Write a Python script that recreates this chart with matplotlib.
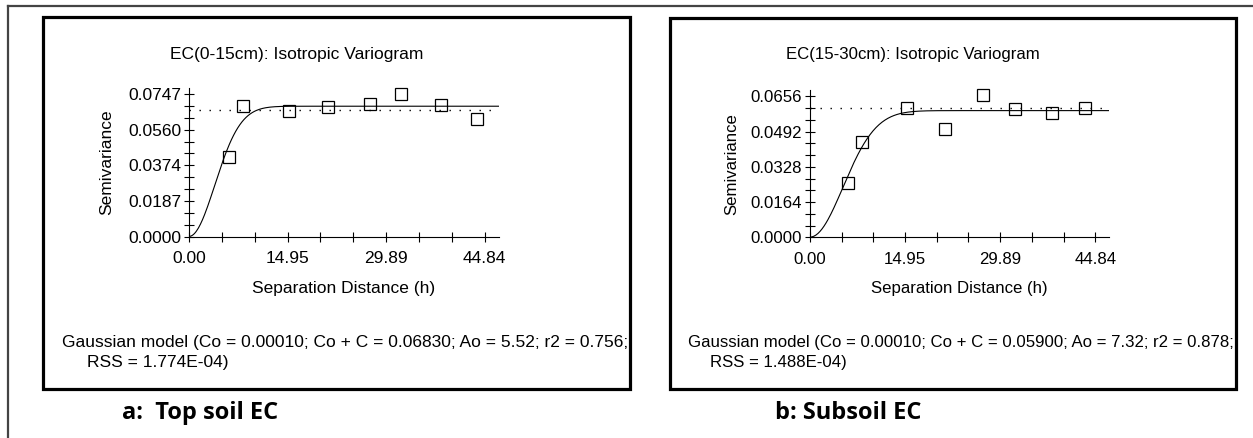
import numpy as np
import matplotlib
matplotlib.use("Agg")
import matplotlib.pyplot as plt
from matplotlib.patches import Rectangle
from matplotlib.lines import Line2D

plt.rcParams['font.family'] = ['Liberation Sans', 'DejaVu Sans']

# data
lag_top = [6.1, 8.25, 15.15, 21.1, 27.4, 32.1, 38.25, 43.6]
semi_top = [0.0419, 0.0686, 0.0658, 0.0681, 0.0695, 0.0745, 0.0690, 0.0615]
lag_sub = [5.9, 8.2, 15.2, 21.2, 27.2, 32.2, 38.1, 43.3]
semi_sub = [0.0252, 0.0444, 0.0602, 0.0506, 0.0662, 0.0596, 0.0578, 0.0602]

# Gaussian model parameters (Co, Co + C, Ao) and the sample variance line
model_top = (0.00010, 0.06830, 5.52)
model_sub = (0.00010, 0.05900, 7.32)
var_top = 0.0664
var_sub = 0.0600

x_ticks = [0.00, 14.95, 29.89, 44.84]
y_ticks_top = [0.0000, 0.0187, 0.0374, 0.0560, 0.0747]
y_ticks_sub = [0.0000, 0.0164, 0.0328, 0.0492, 0.0656]

titles = ["EC(0-15cm): Isotropic Variogram", "EC(15-30cm): Isotropic Variogram"]
model_txt = [
    "Gaussian model (Co = 0.00010; Co + C = 0.06830; Ao = 5.52; r2 = 0.756;",
    "Gaussian model (Co = 0.00010; Co + C = 0.05900; Ao = 7.32; r2 = 0.878;",
]
rss_txt = ["RSS = 1.774E-04)", "RSS = 1.488E-04)"]
captions = ["a:  Top soil EC", "b: Subsoil EC"]

W, H = 1253, 438
fig = plt.figure(figsize=(W / 100, H / 100), dpi=100)


def rect(x0, y0, x1, y1):
    # pixel box (y from top) -> figure fraction rect
    return [x0 / W, 1 - y1 / H, (x1 - x0) / W, (y1 - y0) / H]


def ftext(x, y, s, **kw):
    fig.text(x / W, 1 - y / H, s, **kw)


# outer frame (only top and left edge are inside the picture)
fig.add_artist(Line2D([8 / W, 1], [1 - 6 / H, 1 - 6 / H], color='#444444', lw=1.6))
fig.add_artist(Line2D([8 / W, 8 / W], [0, 1 - 6 / H], color='#444444', lw=1.6))

# the right panel is a slightly narrower copy, so its text is a bit smaller
panels = [
    dict(box=(43, 17, 630, 389), ax=(189, 87.7, 499, 236.6), ymax=0.0780, fs=12.5,
         lags=lag_top, semi=semi_top, model=model_top, var=var_top, yt=y_ticks_top,
         title_x=297, ylab_x=107, txt_x=62, rss_x=87, cap_x=122),
    dict(box=(670, 18, 1236, 389), ax=(810, 90, 1109, 237.3), ymax=0.0686, fs=12.05,
         lags=lag_sub, semi=semi_sub, model=model_sub, var=var_sub, yt=y_ticks_sub,
         title_x=913, ylab_x=732, txt_x=688, rss_x=710, cap_x=775),
]

xmax = 47.0
for i, p in enumerate(panels):
    fs = p['fs']
    bx = fig.add_axes(rect(*p['box']))
    bx.set_xlim(0, 1)
    bx.set_ylim(0, 1)
    bx.axis('off')
    bx.add_patch(Rectangle((0, 0), 1, 1, transform=bx.transAxes, fill=False,
                           ec='black', lw=2.3, clip_on=False))
    # model text, clipped by the box like in the original
    bw = p['box'][2] - p['box'][0]
    bh = p['box'][3] - p['box'][1]
    bx.text((p['txt_x'] - p['box'][0]) / bw, 1 - (343 - p['box'][1]) / bh,
            model_txt[i], fontsize=fs, va='center', ha='left', clip_on=True)
    bx.text((p['rss_x'] - p['box'][0]) / bw, 1 - (363 - p['box'][1]) / bh,
            rss_txt[i], fontsize=fs, va='center', ha='left', clip_on=True)

    ax = fig.add_axes(rect(*p['ax']))
    ax.patch.set_alpha(0)
    Co, sill, Ao = p['model']
    h = np.linspace(0, xmax, 300)
    ax.plot(h, Co + (sill - Co) * (1 - np.exp(-(h / Ao) ** 2)), color='black', lw=0.8)
    ax.axhline(p['var'], color='black', lw=1.0, ls=(0, (1, 6.2)))
    ax.plot(p['lags'], p['semi'], ls='none', marker='s', ms=9, mfc='none',
            mec='black', mew=0.9, clip_on=False)
    ax.set_xlim(0, xmax)
    ax.set_ylim(0, p['ymax'])
    for s in ['top', 'right']:
        ax.spines[s].set_visible(False)
    for s in ['left', 'bottom']:
        ax.spines[s].set_linewidth(0.8)
    ax.set_xticks(x_ticks)
    ax.set_xticklabels([f"{v:.2f}" for v in x_ticks])
    ax.set_xticks([a + (b - a) * k / 3 for a, b in zip(x_ticks[:-1], x_ticks[1:]) for k in (1, 2)], minor=True)
    yt = p['yt']
    ax.set_yticks(yt)
    ax.set_yticklabels([f"{v:.4f}" for v in yt])
    ax.set_yticks([a + (b - a) * k / 3 for a, b in zip(yt[:-1], yt[1:]) for k in (1, 2)], minor=True)
    ax.tick_params(which='both', direction='inout', length=7, width=0.8, labelsize=fs)
    ax.tick_params(axis='x', which='major', pad=7)
    ax.tick_params(axis='y', which='major', pad=2)

    cx = (p['ax'][0] + p['ax'][2]) / 2
    ftext(p['title_x'], 55, titles[i], fontsize=fs, ha='center', va='center')
    ftext(cx, 288, "Separation Distance (h)", fontsize=fs, ha='center', va='center')
    ftext(p['ylab_x'], (p['ax'][1] + p['ax'][3]) / 2, "Semivariance", fontsize=fs,
          rotation=90, ha='center', va='center')
    ftext(p['cap_x'], 413, captions[i], fontsize=17, fontweight='bold',
          family=['Open Sans', 'DejaVu Sans'], ha='left', va='center')

fig.savefig("out.png", dpi=100)
